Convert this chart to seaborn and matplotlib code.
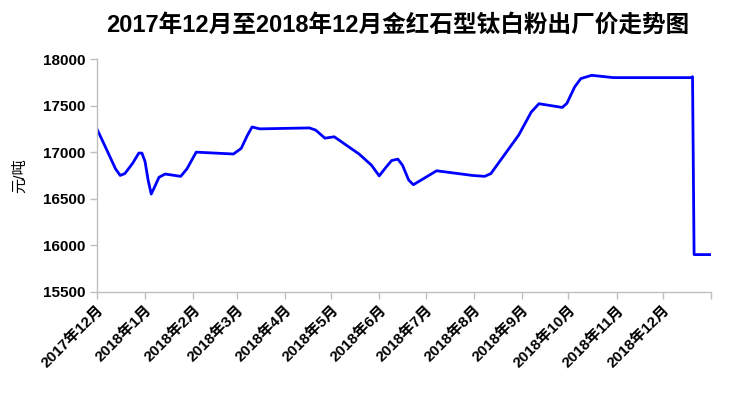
import pandas as pd
import matplotlib
matplotlib.use("Agg")
import matplotlib.pyplot as plt
import seaborn as sns

# price readings (元/吨) taken off the reference curve
dates = ["2017-12-01", "2017-12-08", "2017-12-13", "2017-12-16", "2017-12-19",
         "2017-12-24", "2017-12-28", "2017-12-30", "2018-01-01", "2018-01-03",
         "2018-01-05", "2018-01-07", "2018-01-10", "2018-01-14", "2018-01-24",
         "2018-01-28", "2018-02-03", "2018-02-27", "2018-03-04", "2018-03-08",
         "2018-03-11", "2018-03-16", "2018-04-17", "2018-04-21", "2018-04-27",
         "2018-05-03", "2018-05-19", "2018-05-27", "2018-06-01", "2018-06-05",
         "2018-06-09", "2018-06-13", "2018-06-16", "2018-06-20", "2018-06-23",
         "2018-06-28", "2018-07-08", "2018-07-31", "2018-08-08", "2018-08-12",
         "2018-08-30", "2018-09-07", "2018-09-12", "2018-09-27", "2018-09-30",
         "2018-10-05", "2018-10-09", "2018-10-16", "2018-10-30", "2018-12-19",
         "2018-12-20", "2018-12-21", "2019-01-01"]
prices = [17250, 17000, 16820, 16750, 16770,
          16880, 16990, 16990, 16900, 16700,
          16550, 16620, 16730, 16765, 16740,
          16820, 17000, 16980, 17040, 17180,
          17270, 17250, 17260, 17237, 17150,
          17165, 16980, 16860, 16745, 16830,
          16910, 16925, 16860, 16700, 16650,
          16700, 16800, 16750, 16740, 16770,
          17185, 17430, 17520, 17480, 17524,
          17700, 17790, 17825, 17800, 17800,
          17810, 15900, 15900]

tick_dates = pd.date_range("2017-12-01", "2019-01-01", freq="MS")
tick_labels = ["2017年12月", "2018年1月", "2018年2月", "2018年3月", "2018年4月",
               "2018年5月", "2018年6月", "2018年7月", "2018年8月", "2018年9月",
               "2018年10月", "2018年11月", "2018年12月", ""]

df = pd.DataFrame({"date": pd.to_datetime(dates), "price": prices})

sns.set_style("white")
plt.rcParams["font.family"] = ["Liberation Sans", "Noto Sans CJK SC", "DejaVu Sans"]
plt.rcParams["text.color"] = "black"
plt.rcParams["xtick.labelcolor"] = "black"
plt.rcParams["ytick.labelcolor"] = "black"
plt.rcParams["axes.labelcolor"] = "black"

fig = plt.figure(figsize=(7.4, 3.96), dpi=100)
ax = fig.add_axes([0.131, 0.263, 0.83, 0.588])
sns.lineplot(data=df, x="date", y="price", ax=ax, color="#0000ff", linewidth=2.0)

ax.set_xlim(pd.Timestamp("2017-12-01"), pd.Timestamp("2019-01-01"))
ax.set_ylim(15500, 18000)
ax.set_yticks(range(15500, 18001, 500))
ax.set_xticks(tick_dates)
ax.set_xticklabels(tick_labels, rotation=45, ha="right", rotation_mode="anchor",
                   fontweight="bold", fontsize=11)
for t in ax.get_yticklabels():
    t.set_fontweight("bold")
    t.set_fontsize(11)

sns.despine(ax=ax)
for s in ["left", "bottom"]:
    ax.spines[s].set_color("#bfbfbf")
    ax.spines[s].set_linewidth(1)
ax.tick_params(axis="both", which="major", direction="out", length=5,
               color="#bfbfbf", width=1, pad=3, left=True, bottom=True)

ax.set_xlabel("")
ax.set_ylabel("元/吨", fontsize=11, labelpad=12)
fig.suptitle("2017年12月至2018年12月金红石型钛白粉出厂价走势图",
             fontsize=17, fontweight="bold", x=0.537, y=0.965, color="black")

fig.savefig("out.png", dpi=100)
